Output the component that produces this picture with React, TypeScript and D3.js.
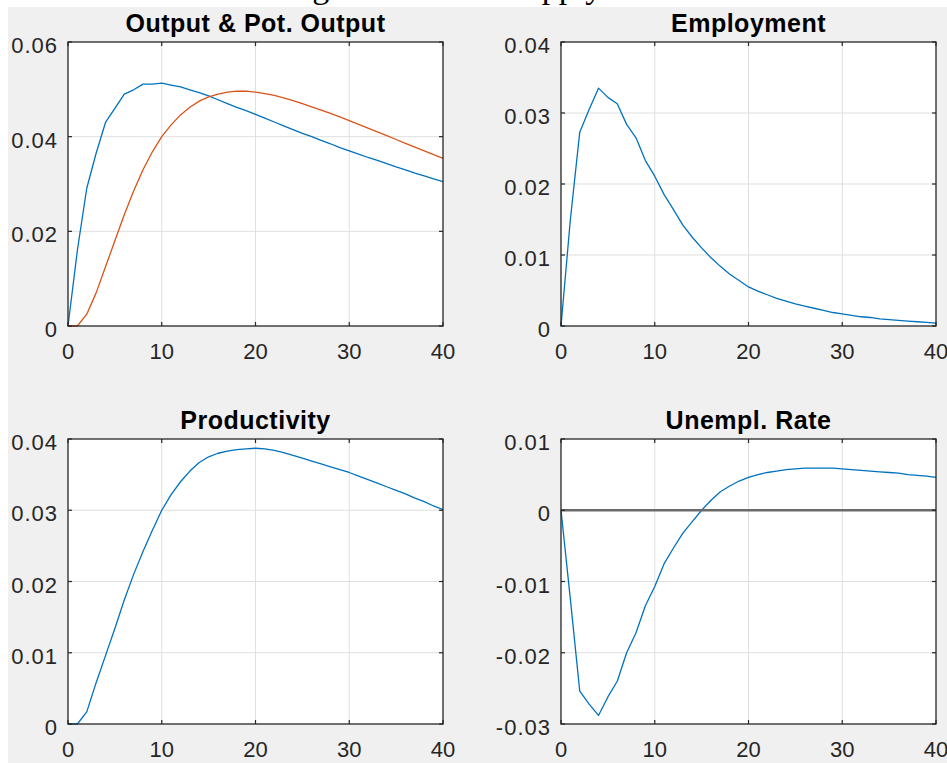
import React from "react";
import * as d3 from "d3";

const periods = d3.range(0, 41);

const output = [0, 0.0160, 0.0291, 0.0365, 0.0430, 0.0460, 0.0490, 0.0499, 0.0511, 0.0511, 0.0513, 0.0509, 0.0505, 0.0499, 0.0493, 0.0486, 0.0478, 0.0470, 0.0462, 0.0455, 0.0447, 0.0439, 0.0431, 0.0423, 0.0415, 0.0407, 0.0400, 0.0392, 0.0385, 0.0377, 0.0370, 0.0363, 0.0356, 0.0350, 0.0343, 0.0336, 0.0330, 0.0323, 0.0317, 0.0311, 0.0305];
const potOutput = [0, 0, 0.0025, 0.0070, 0.0125, 0.0180, 0.0235, 0.0285, 0.0330, 0.0368, 0.0400, 0.0425, 0.0446, 0.0462, 0.0475, 0.0484, 0.0490, 0.0494, 0.0496, 0.0496, 0.0494, 0.0491, 0.0487, 0.0482, 0.0476, 0.0470, 0.0463, 0.0456, 0.0449, 0.0442, 0.0434, 0.0426, 0.0418, 0.0410, 0.0402, 0.0394, 0.0386, 0.0378, 0.0370, 0.0362, 0.0354];
const employment = [0, 0.0150, 0.0273, 0.0305, 0.0335, 0.0322, 0.0313, 0.0284, 0.0265, 0.0233, 0.0211, 0.0185, 0.0164, 0.0142, 0.0125, 0.0110, 0.0096, 0.0084, 0.0073, 0.0064, 0.0055, 0.0049, 0.0044, 0.0039, 0.0035, 0.0031, 0.0028, 0.0025, 0.0022, 0.0019, 0.0017, 0.0015, 0.0013, 0.0012, 0.0010, 0.0009, 0.0008, 0.0007, 0.0006, 0.0005, 0.0004];
const productivity = [0, 0, 0.0017, 0.0058, 0.0096, 0.0134, 0.0174, 0.0210, 0.0242, 0.0272, 0.0300, 0.0322, 0.0340, 0.0355, 0.0367, 0.0375, 0.0380, 0.0383, 0.0385, 0.0386, 0.0387, 0.0386, 0.0384, 0.0381, 0.0377, 0.0373, 0.0369, 0.0365, 0.0361, 0.0357, 0.0353, 0.0348, 0.0343, 0.0338, 0.0333, 0.0328, 0.0323, 0.0317, 0.0312, 0.0306, 0.0301];
const unemplRate = [0, -0.0125, -0.0254, -0.0272, -0.0288, -0.0262, -0.0240, -0.0200, -0.0172, -0.0134, -0.0107, -0.0075, -0.0053, -0.0032, -0.0016, 0.0000, 0.0014, 0.0026, 0.0034, 0.0041, 0.0046, 0.0050, 0.0053, 0.0055, 0.0057, 0.0058, 0.0059, 0.0059, 0.0059, 0.0059, 0.0058, 0.0057, 0.0056, 0.0055, 0.0054, 0.0053, 0.0052, 0.0050, 0.0049, 0.0048, 0.0046];

const xTicks = [0, 10, 20, 30, 40];
const yTicksOutput = [0, 0.02, 0.04, 0.06];
const yTicksEmployment = [0, 0.01, 0.02, 0.03, 0.04];
const yTicksProductivity = [0, 0.01, 0.02, 0.03, 0.04];
const yTicksUnempl = [-0.03, -0.02, -0.01, 0, 0.01];

const figureTitle = "Figure 5: Labor Supply Shock";

const BLUE = "#0072BD";
const ORANGE = "#D95319";

type Series = { values: number[]; color: string };

function Panel(props: {
  left: number;
  top: number;
  width: number;
  height: number;
  title: string;
  yTicks: number[];
  yLabels: string[];
  series: Series[];
  zeroLine?: boolean;
}) {
  const { left, top, width, height, title, yTicks, yLabels, series, zeroLine } = props;
  const x = d3.scaleLinear().domain([0, 40]).range([left, left + width]);
  const y = d3
    .scaleLinear()
    .domain([yTicks[0], yTicks[yTicks.length - 1]])
    .range([top + height, top]);
  const line = d3
    .line<number>()
    .x((_, i) => x(periods[i]))
    .y((d) => y(d));
  const tickLen = 4;
  const axisColor = "#262626";
  return (
    <g>
      <rect x={left} y={top} width={width} height={height} fill="#ffffff" />
      {xTicks.slice(1, -1).map((t) => (
        <line key={"gx" + t} x1={x(t)} x2={x(t)} y1={top} y2={top + height} stroke="#dfdfdf" strokeWidth={1} />
      ))}
      {yTicks.slice(1, -1).map((t) => (
        <line key={"gy" + t} x1={left} x2={left + width} y1={y(t)} y2={y(t)} stroke="#dfdfdf" strokeWidth={1} />
      ))}
      {series.map((s, i) => (
        <path key={"s" + i} d={line(s.values) || ""} fill="none" stroke={s.color} strokeWidth={1.3} strokeLinejoin="round" />
      ))}
      {zeroLine && (
        <line x1={x(0)} x2={x(40)} y1={y(0)} y2={y(0)} stroke="#6b6b6b" strokeWidth={2.6} />
      )}
      {xTicks.map((t) => (
        <g key={"tx" + t}>
          <line x1={x(t)} x2={x(t)} y1={top + height} y2={top + height - tickLen} stroke={axisColor} strokeWidth={1.2} />
          <line x1={x(t)} x2={x(t)} y1={top} y2={top + tickLen} stroke={axisColor} strokeWidth={1.2} />
          <text
            x={x(t)}
            y={top + height + 33}
            textAnchor="middle"
            fontFamily="Liberation Sans, Arial, sans-serif"
            fontSize={22}
            fill={axisColor}
          >
            {String(t)}
          </text>
        </g>
      ))}
      {yTicks.map((t, i) => (
        <g key={"ty" + t}>
          <line x1={left} x2={left + tickLen} y1={y(t)} y2={y(t)} stroke={axisColor} strokeWidth={1.2} />
          <line x1={left + width} x2={left + width - tickLen} y1={y(t)} y2={y(t)} stroke={axisColor} strokeWidth={1.2} />
          <text
            x={left - 10}
            y={y(t) + 11}
            textAnchor="end"
            fontFamily="Liberation Sans, Arial, sans-serif"
            fontSize={22}
            letterSpacing={1}
            fill={axisColor}
          >
            {yLabels[i]}
          </text>
        </g>
      ))}
      <rect x={left} y={top} width={width} height={height} fill="none" stroke={axisColor} strokeWidth={1.3} />
      <text
        x={left + width / 2}
        y={top - 10}
        textAnchor="middle"
        fontFamily="Liberation Sans, Arial, sans-serif"
        fontWeight="bold"
        fontSize={25}
        letterSpacing={0.5}
        fill="#000000"
      >
        {title}
      </text>
    </g>
  );
}

const fmt = (v: number) => (v === 0 ? "0" : String(v));

export default function App() {
  const W = 947;
  const H = 763;
  const pw = 375;
  const ph = 284;
  return (
    <svg width={W} height={H} style={{ position: "absolute", left: 0, top: 0 }}>
      <rect x={0} y={0} width={W} height={H} fill="#ffffff" />
      <rect x={8} y={7} width={W - 8} height={H - 7} fill="#f0f0f0" />
      <text x={284} y={-2} fontFamily="Liberation Serif, Times New Roman, serif" fontSize={34} fill="#000000">
        {figureTitle}
      </text>
      <Panel
        left={68}
        top={42}
        width={pw}
        height={ph}
        title="Output & Pot. Output"
        yTicks={yTicksOutput}
        yLabels={yTicksOutput.map(fmt)}
        series={[
          { values: output, color: BLUE },
          { values: potOutput, color: ORANGE },
        ]}
      />
      <Panel
        left={561}
        top={42}
        width={pw}
        height={ph}
        title="Employment"
        yTicks={yTicksEmployment}
        yLabels={yTicksEmployment.map(fmt)}
        series={[{ values: employment, color: BLUE }]}
      />
      <Panel
        left={68}
        top={439}
        width={pw}
        height={285}
        title="Productivity"
        yTicks={yTicksProductivity}
        yLabels={yTicksProductivity.map(fmt)}
        series={[{ values: productivity, color: BLUE }]}
      />
      <Panel
        left={561}
        top={439}
        width={pw}
        height={285}
        title="Unempl. Rate"
        yTicks={yTicksUnempl}
        yLabels={yTicksUnempl.map(fmt)}
        series={[{ values: unemplRate, color: BLUE }]}
        zeroLine
      />
    </svg>
  );
}
